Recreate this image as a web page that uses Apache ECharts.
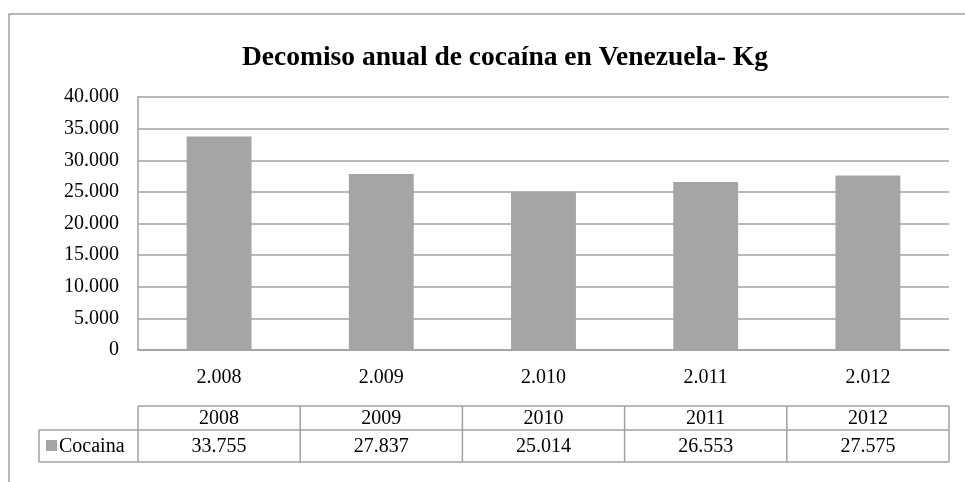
<!DOCTYPE html>
<html>
<head>
<meta charset="utf-8">
<script src="https://cdn.jsdelivr.net/npm/echarts@6/dist/echarts.min.js"></script>
<style>
html,body{margin:0;padding:0;background:#fff;}
#c{width:965px;height:482px;}
</style>
</head>
<body>
<div id="c"></div>
<script>
var title = 'Decomiso anual de cocaína en Venezuela- Kg';
var categories = ['2.008', '2.009', '2.010', '2.011', '2.012'];
var tableYears = ['2008', '2009', '2010', '2011', '2012'];
var seriesName = 'Cocaina';
var cocaina = [33755, 27837, 25014, 26553, 27575];
var yTicks = { min: 0, max: 40000, interval: 5000 };

function fmt(v) {
  return String(v).replace(/\B(?=(\d{3})+(?!\d))/g, '.');
}

var FONT = '"Liberation Serif", "Times New Roman", serif';
var GREY = '#a0a0a0';
var BAR = '#a5a5a5';
var FS = 20;

var chart = echarts.init(document.getElementById('c'), null, { renderer: 'canvas' });
var option = {
  animation: false,
  backgroundColor: '#fff',
  title: {
    text: title,
    left: 500, top: 39, textAlign: 'center',
    textStyle: { fontFamily: FONT, fontSize: 27.5, fontWeight: 'bold', color: '#000' }
  },
  grid: { left: 138, right: 16, top: 97, bottom: 132, containLabel: false },
  xAxis: {
    type: 'category',
    data: categories,
    axisLine: { show: true, lineStyle: { color: GREY, width: 1.5 } },
    axisTick: { show: false },
    axisLabel: { fontFamily: FONT, fontSize: FS, color: '#000', margin: 18 }
  },
  yAxis: {
    type: 'value',
    min: yTicks.min, max: yTicks.max, interval: yTicks.interval,
    axisLine: { show: true, lineStyle: { color: GREY, width: 1.5 } },
    axisTick: { show: false },
    splitLine: { show: true, lineStyle: { color: GREY, width: 1.5 } },
    axisLabel: { fontFamily: FONT, fontSize: FS, color: '#000', margin: 19, formatter: fmt }
  },
  series: [{
    name: seriesName,
    type: 'bar',
    data: cocaina,
    barWidth: '40%',
    itemStyle: { color: BAR }
  }]
};
chart.setOption(option);

// Build data table aligned to the category axis
var n = categories.length;
var x0 = chart.convertToPixel({ gridIndex: 0 }, [0, 0]);
var x1 = chart.convertToPixel({ gridIndex: 0 }, [1, 0]);
var colW = x1[0] - x0[0];
var left = x0[0] - colW / 2;
var right = left + colW * n;
var tTop = 406, tMid = 430, tBot = 462, labelLeft = 39;
var els = [];
// outer frame
els.push({ type: 'rect', shape: { x: 9, y: 14, width: 1000, height: 500 }, style: { fill: 'none', stroke: GREY, lineWidth: 1.5 }, silent: true });
var line = function (a, b, c, d) {
  els.push({ type: 'line', shape: { x1: a, y1: b, x2: c, y2: d }, style: { stroke: GREY, lineWidth: 1.5 }, silent: true });
};
line(left, tTop, right, tTop);
line(labelLeft, tMid, right, tMid);
line(labelLeft, tBot, right, tBot);
line(labelLeft, tMid, labelLeft, tBot);
for (var i = 0; i <= n; i++) {
  line(left + colW * i, tTop, left + colW * i, tBot);
}
for (var j = 0; j < n; j++) {
  var cx = left + colW * (j + 0.5);
  els.push({ type: 'text', x: cx, y: (tTop + tMid) / 2 + 1, style: { text: tableYears[j], font: FS + 'px ' + FONT, fill: '#000', align: 'center', verticalAlign: 'middle' }, silent: true });
  els.push({ type: 'text', x: cx, y: (tMid + tBot) / 2 + 1, style: { text: fmt(cocaina[j]), font: FS + 'px ' + FONT, fill: '#000', align: 'center', verticalAlign: 'middle' }, silent: true });
}
els.push({ type: 'rect', shape: { x: 46, y: 440, width: 11, height: 11 }, style: { fill: BAR }, silent: true });
els.push({ type: 'text', x: 59, y: (tMid + tBot) / 2 + 1, style: { text: seriesName, font: FS + 'px ' + FONT, fill: '#000', align: 'left', verticalAlign: 'middle' }, silent: true });
chart.setOption({ graphic: { elements: els } });
</script>
</body>
</html>
